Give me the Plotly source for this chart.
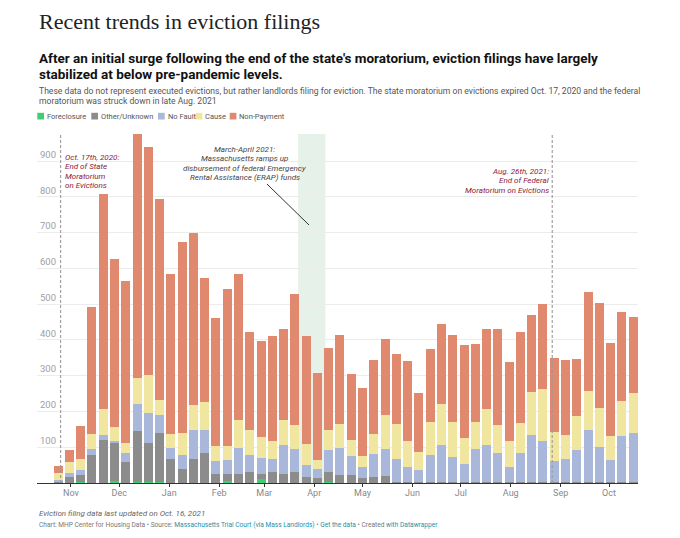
import pandas as pd
import plotly.graph_objects as go

# weekly eviction filings (week ending Saturday)
weeks = pd.date_range("2020-10-24", periods=52, freq="7D")

foreclosure = [0, 0, 2, 0, 0, 5, 0, 3, 3, 4, 0, 0, 0, 0, 0, 5, 0, 0, 10, 0, 0, 0, 0, 0, 3, 0,
               0, 0, 0, 0, 0, 0, 0, 0, 0, 1, 0, 0, 0, 0, 0, 0, 0, 0, 0, 2, 0, 0, 0, 0, 0, 0]
other = [5, 16, 21, 79, 120, 107, 59, 143, 110, 136, 67, 38, 68, 84, 26, 21, 24, 30, 16, 30, 26, 31, 17, 15, 28, 23,
         22, 13, 17, 19, 4, 3, 2, 3, 3, 2, 2, 2, 2, 2, 2, 2, 2, 2, 2, 2, 2, 2, 2, 2, 2, 2]
no_fault = [3, 12, 14, 17, 14, 6, 25, 74, 84, 50, 30, 41, 80, 65, 36, 39, 75, 48, 43, 37, 79, 63, 32, 25, 61, 74,
            53, 32, 65, 77, 64, 42, 33, 74, 103, 70, 50, 92, 104, 83, 43, 82, 132, 116, 60, 62, 90, 147, 99, 63, 129, 138]
cause = [20, 30, 29, 42, 73, 39, 28, 75, 106, 42, 41, 61, 70, 78, 42, 38, 78, 70, 60, 51, 72, 68, 59, 25, 56, 67,
         46, 30, 56, 94, 98, 73, 52, 94, 116, 98, 75, 77, 102, 77, 73, 85, 121, 146, 81, 69, 96, 109, 109, 66, 98, 112]
non_payment = [20, 34, 93, 355, 601, 469, 454, 681, 638, 562, 446, 535, 480, 347, 358, 440, 408, 274, 267, 293, 255, 366, 302, 244, 229, 249,
               183, 191, 206, 214, 196, 223, 165, 205, 224, 244, 260, 218, 224, 268, 219, 252, 216, 236, 207, 209, 160, 275, 294, 261, 248, 213]

series = ["Foreclosure", "Other/Unknown", "No Fault", "Cause", "Non-Payment"]
colors = ["#3fcf72", "#8c8c8c", "#a9b7db", "#f0e69f", "#e0896f"]
values = [foreclosure, other, no_fault, cause, non_payment]

df = pd.DataFrame({"week": weeks})
for name, vals in zip(series, values):
    df[name] = vals

# page is 680x538 but the html body has an 8px margin, so the figure is shifted
OFF = 8
W, H = 680 - OFF, 538 - OFF
# plot area in page pixels
L, R, T, B = 37, 638, 134, 483
YMAX = 976
def px(x):
    return (x - L) / (R - L)
def py(y):
    return (B - y) / (B - T)
def yval(y):
    return py(y) * YMAX

fig = go.Figure()
for name, col in zip(series, colors):
    fig.add_trace(go.Bar(x=df["week"], y=df[name], name=name, marker_color=col,
                         marker_line_width=0, showlegend=False))

fig.update_layout(
    barmode="stack",
    bargap=0.2,
    width=W, height=H,
    margin=dict(l=L - OFF, r=680 - R, t=T - OFF, b=538 - B),
    paper_bgcolor="white", plot_bgcolor="white",
    font=dict(family="Roboto", color="#333"),
)

fig.update_xaxes(
    type="date",
    range=["2020-10-10 22:00", "2021-10-19"],
    dtick="M1", tick0="2020-11-01", tickformat="%b",
    ticks="outside", ticklen=3, tickcolor="#333",
    ticklabelstandoff=-2,
    showline=True, linecolor="#333", linewidth=1.3,
    showgrid=False, tickfont=dict(size=9, color="#888"),
)
fig.update_yaxes(
    range=[0, YMAX],
    tickvals=[100, 200, 300, 400, 500, 600, 700, 800, 900],
    ticklabelposition="inside top",
    showgrid=True, gridcolor="#ececec", gridwidth=1,
    zeroline=False, showline=False,
    tickfont=dict(size=9.5, color="#a0a0a0"),
)

# ERAP band and moratorium lines
fig.add_shape(type="rect", x0="2021-03-22", x1="2021-04-08", y0=0, y1=YMAX,
              fillcolor="#e6f2e9", line_width=0, layer="below")
for d in ["2020-10-25 14:00", "2021-08-26 18:00"]:
    fig.add_shape(type="line", x0=d, x1=d, y0=0, y1=YMAX,
                  line=dict(color="#9a9a9a", width=1.1, dash="3px,2px"), layer="above")


def note(lines, x, top, anchor, color, step=9.5):
    for i, txt in enumerate(lines):
        fig.add_annotation(x=x, y=yval(top + i * step), xanchor=anchor, yanchor="middle",
                           showarrow=False, text=f"<i>{txt}</i>",
                           font=dict(size=8, color=color))


note(["Oct. 17th, 2020:", "End of State", "Moratorium", "on Evictions"],
     "2020-10-27", 157, "left", "#8e2036")
note(["Aug. 26th, 2021:", "End of Federal", "Moratorium on Evictions"],
     "2021-08-26", 171, "right", "#8e2036")
note(["March-April 2021:", "Massachusetts ramps up", "disbursement of federal Emergency",
      "Rental Assistance (ERAP) funds"],
     "2021-02-17", 149, "center", "#444")
fig.add_shape(type="line", x0="2021-03-02 16:00", y0=yval(184), x1="2021-03-28 19:00", y1=yval(225),
              line=dict(color="#333", width=1))


def text(x, y, s, size, color, family="Roboto"):
    fig.add_annotation(xref="paper", yref="paper", x=px(x), y=py(y), xanchor="left",
                       yanchor="middle", showarrow=False, text=s,
                       font=dict(family=family, size=size, color=color))


# headings
text(37, 22, "Recent trends in eviction filings", 22, "#222", "Liberation Serif")
text(37, 58, "<b>After an initial surge following the end of the state's moratorium, eviction filings have largely</b>", 13.5, "#111")
text(37, 74, "<b>stabilized at below pre-pandemic levels.</b>", 13.5, "#111")
text(37, 91, "These data do not represent executed evictions, but rather landlords filing for eviction. "
             "The state moratorium on evictions expired Oct. 17, 2020 and the federal", 8.6, "#555")
text(37, 101, "moratorium was struck down in late Aug. 2021", 8.6, "#555")

# legend
legend_x = [(37.3, 44.5), (91.3, 99), (158, 165.5), (195.7, 203.2), (229.7, 237)]
for (sx, tx), name, col in zip(legend_x, series, colors):
    fig.add_shape(type="rect", xref="paper", yref="paper", x0=px(sx), x1=px(sx + 6.7),
                  y0=py(119.5), y1=py(112.8), fillcolor=col, line_width=0)
    text(tx, 116, name, 7.5, "#555")

# footer
text(37, 513, "<i>Eviction filing data last updated on Oct. 16, 2021</i>", 8.0, "#666")
link = "#1f8fa8"
footer = ("Chart: MHP Center for Housing Data • Source: "
          f"<span style='color:{link}'>Massachusetts Trial Court (via Mass Landlords)</span> • "
          f"<span style='color:{link}'>Get the data</span> • Created with "
          f"<span style='color:{link}'>Datawrapper</span>")
text(37, 525, footer, 6.6, "#777")

fig.write_html("out.html")
